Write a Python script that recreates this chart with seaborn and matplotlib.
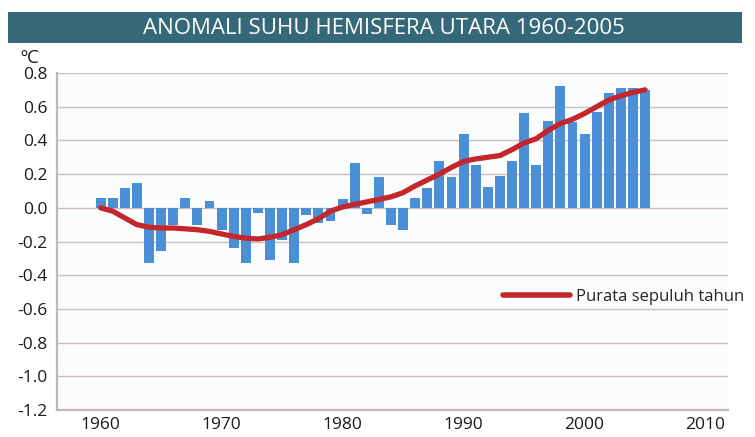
import matplotlib
matplotlib.use("Agg")
import matplotlib.pyplot as plt
from matplotlib.patches import Rectangle
from matplotlib.lines import Line2D
import seaborn as sns
import pandas as pd

years = list(range(1960, 2006))
anomaly = [0.06, 0.06, 0.12, 0.145, -0.33, -0.255, -0.10, 0.06, -0.10, 0.04,
           -0.13, -0.24, -0.33, -0.03, -0.31, -0.19, -0.33, -0.04, -0.09, -0.08,
           0.05, 0.265, -0.035, 0.18, -0.10, -0.13, 0.06, 0.12, 0.275, 0.185,
           0.44, 0.255, 0.125, 0.19, 0.275, 0.56, 0.255, 0.515, 0.72, 0.51,
           0.44, 0.57, 0.68, 0.71, 0.71, 0.70]
ten_year_mean = [0.00, -0.02, -0.06, -0.10, -0.115, -0.12, -0.12, -0.125, -0.13, -0.14,
                 -0.155, -0.17, -0.18, -0.185, -0.175, -0.16, -0.13, -0.10, -0.065, -0.02,
                 0.005, 0.02, 0.035, 0.05, 0.065, 0.09, 0.13, 0.165, 0.20, 0.24,
                 0.275, 0.29, 0.30, 0.31, 0.345, 0.385, 0.41, 0.46, 0.50, 0.525,
                 0.56, 0.60, 0.64, 0.665, 0.685, 0.70]
x_ticks = [1960, 1970, 1980, 1990, 2000, 2010]
y_ticks = [0.8, 0.6, 0.4, 0.2, 0.0, -0.2, -0.4, -0.6, -0.8, -1.0, -1.2]
title = "ANOMALI SUHU HEMISFERA UTARA 1960-2005"
unit = "ºC"
legend_label = "Purata sepuluh tahun"

df = pd.DataFrame({"year": years, "anomaly": anomaly, "mean": ten_year_mean})

sns.set_style("white")
plt.rcParams['font.family'] = ['Open Sans', 'DejaVu Sans']

fig = plt.figure(figsize=(7.55, 4.37), dpi=100)
ax = fig.add_axes([57/755, 1-410/437, (728-57)/755, (410-73)/437])
ax.set_facecolor("#fbfcfe")

grid_c = "#cdbfb8"
for v in y_ticks:
    ax.axhline(v, color=grid_c, lw=1.0, zorder=0)

sns.barplot(data=df, x="year", y="anomaly", native_scale=True, color="#4b8fd6",
            saturation=1, width=0.82, edgecolor="none", errorbar=None, ax=ax, zorder=2)
sns.lineplot(data=df, x="year", y="mean", color="#c4262b", lw=3.8, ax=ax, zorder=3,
             solid_capstyle="round", solid_joinstyle="round")

ax.set_xlim(1956.4, 2011.85)
ax.set_ylim(-1.2, 0.8)
ax.set_xticks(x_ticks)
ax.set_xticklabels([str(t) for t in x_ticks])
ax.set_yticks(y_ticks)
ax.set_yticklabels([f"{t:.1f}" for t in y_ticks])
ax.tick_params(axis="both", length=0, labelsize=12.5, colors="#1a1a1a")
ax.tick_params(axis="x", pad=5)
ax.tick_params(axis="y", pad=7)
ax.set_xlabel("")
ax.set_ylabel("")
for s in ["top", "right"]:
    ax.spines[s].set_visible(False)
for s in ["left", "bottom"]:
    ax.spines[s].set_color("#c4b6b0")
    ax.spines[s].set_linewidth(1.6)

# title banner
fig.patches.append(Rectangle((8/755, 1-43/437), (742-8)/755, 31/437,
                             transform=fig.transFigure, facecolor="#356878",
                             edgecolor="none", zorder=0))
fig.text(384/755, 1-28/437, title, color="white", fontsize=16,
         ha="center", va="center")
fig.text(20/755, 1-58/437, unit, color="#1a1a1a", fontsize=13.5, ha="left", va="center")

handle = Line2D([], [], color="#c4262b", lw=4)
ax.legend([handle], [legend_label], loc="center left", bbox_to_anchor=(0.655, 0.335),
          frameon=False, fontsize=12.0, handlelength=4.0, handletextpad=0.35,
          borderaxespad=0)

fig.savefig("out.png", dpi=100)
